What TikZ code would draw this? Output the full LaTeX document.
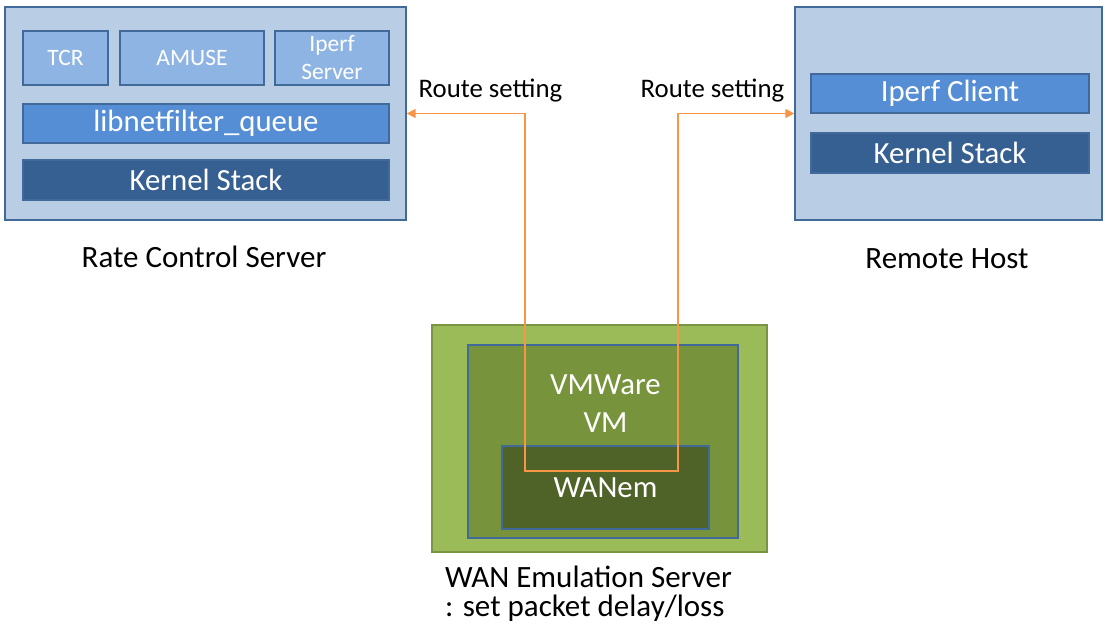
\documentclass[tikz,border=0pt]{standalone}
\usepackage{fontspec}
\setmainfont{Carlito}
\usetikzlibrary{arrows.meta}
\definecolor{outerfill}{HTML}{B9CDE5}
\definecolor{bluedraw}{HTML}{41699A}
\definecolor{lightblue}{HTML}{8EB4E3}
\definecolor{midblue}{HTML}{558ED5}
\definecolor{darkblue}{HTML}{376092}
\definecolor{green1}{HTML}{9BBB59}
\definecolor{green1draw}{HTML}{7A9443}
\definecolor{green2}{HTML}{77933C}
\definecolor{green3}{HTML}{4F6228}
\definecolor{routeorange}{HTML}{F79646}
\tikzset{
  box/.style={draw=bluedraw, line width=1.3pt, inner sep=0pt, text=white, align=center},
  bigfont/.style={font=\fontsize{30.8}{37}\selectfont},
  smallfont/.style={font=\fontsize{23.5}{28}\selectfont},
  caption/.style={inner sep=0pt, text=black, font=\fontsize{31}{29}\selectfont},
  routelabel/.style={inner sep=0pt, text=black, font=\fontsize{26.8}{32}\selectfont, anchor=base},
  route/.style={draw=routeorange, line width=1.5pt, {Triangle[length=9pt,width=9pt]}-{Triangle[length=9pt,width=9pt]}},
}
\begin{document}
\begin{tikzpicture}[x=1pt,y=-1pt]
\useasboundingbox[fill=white] (0,0) rectangle (1105,632);
% Rate Control Server
\node[box, fill=outerfill, minimum width=401pt, minimum height=213pt] (rcs) at (205.5,113.5) {};
\node[box, fill=lightblue, smallfont, minimum width=85pt, minimum height=54pt] (tcr) at (65.5,58) {TCR};
\node[box, fill=lightblue, smallfont, minimum width=144pt, minimum height=54pt] (amuse) at (192,58) {AMUSE};
\node[box, fill=lightblue, smallfont, minimum width=114pt, minimum height=54pt] (iperfs) at (332,58) {Iperf\\Server};
\node[box, fill=midblue, bigfont, minimum width=366pt, minimum height=39pt] (lnfq) at (206,123.5) {libnetfilter\_queue};
\node[box, fill=darkblue, bigfont, minimum width=366pt, minimum height=40pt] (ks1) at (206,180) {Kernel Stack};
\node[caption, anchor=base] (rcslabel) at (204,267) {Rate Control Server};
% Remote Host
\node[box, fill=outerfill, minimum width=307pt, minimum height=213pt] (rh) at (948.5,113.5) {};
\node[box, fill=midblue, bigfont, minimum width=278pt, minimum height=39pt] (iperfc) at (950,93.5) {Iperf Client};
\node[box, fill=darkblue, bigfont, minimum width=278pt, minimum height=40pt] (ks2) at (950,153) {Kernel Stack};
\node[caption, anchor=base] (rhlabel) at (947,268) {Remote Host};
% WAN Emulation Server
\node[box, draw=green1draw, fill=green1, minimum width=335pt, minimum height=227pt] (wes) at (599.5,438.5) {};
\node[box, fill=green2, minimum width=270pt, minimum height=193pt] (vm) at (603,441.5) {};
\node[box, fill=green3, bigfont, minimum width=207pt, minimum height=83pt] (wanem) at (605.5,487.5) {WANem};
\node[inner sep=0pt, text=white, align=center, font=\fontsize{30.8}{38}\selectfont] (vmlabel) at (605.5,404) {VMWare\\VM};
\node[caption, align=left, anchor=north west] (weslabel) at (445,566) {WAN Emulation Server\\: set packet delay/loss};
% Route
\coordinate (p1) at (525,471);
\coordinate (p2) at (678,471);
\draw[route] (rcs.east) -| (p1) -- (p2) |- (rh.west);
\node[routelabel] (rl1) at (490.5,97) {Route setting};
\node[routelabel] (rl2) at (712.5,97) {Route setting};
\end{tikzpicture}
\end{document}
